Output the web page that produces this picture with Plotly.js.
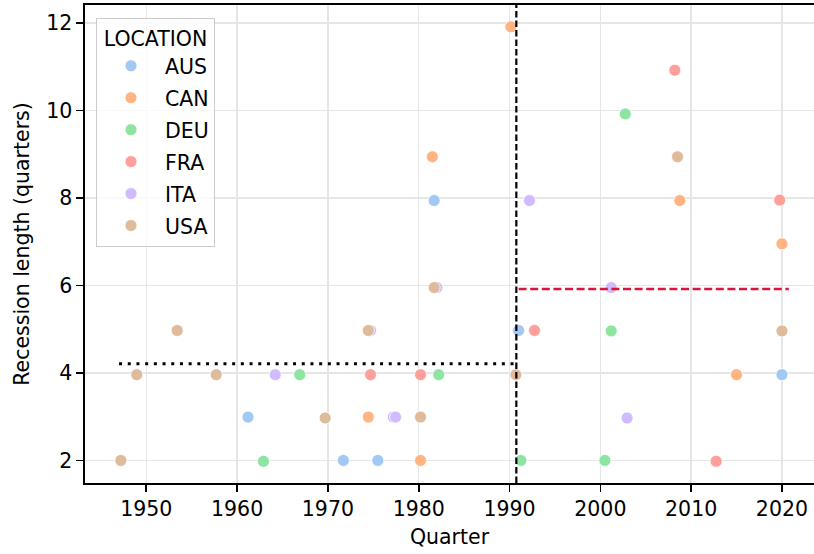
<!DOCTYPE html>
<html>
<head>
<meta charset="utf-8">
<script src="https://cdn.plot.ly/plotly-3.0.1.min.js"></script>
<style>
  html, body { margin: 0; padding: 0; background: #ffffff; }
  #chart { width: 814px; height: 554px; }
</style>
</head>
<body>
<div id="chart"></div>
<script>
// Recession episodes: start quarter (decimal year) and length in quarters, per country
const locations = ["AUS", "CAN", "DEU", "FRA", "ITA", "USA"];
const colors = ["#a1c9f4", "#ffb482", "#8de5a1", "#ff9f9b", "#d0bbff", "#debb9b"];

const ausQuarter = [1961.2, 1971.7, 1975.5, 1981.7, 1991.0, 2020.0];
const ausLength  = [2.99, 2.0, 2.0, 7.94, 4.97, 3.96];

const canQuarter = [1974.45, 1980.2, 1981.5, 1990.15, 2008.75, 2015.0, 2020.0];
const canLength  = [2.99, 2.0, 8.94, 11.91, 7.94, 3.96, 6.95];

const deuQuarter = [1962.9, 1966.9, 1982.2, 1991.25, 2000.5, 2001.2, 2002.75];
const deuLength  = [1.98, 3.96, 3.96, 2.0, 2.0, 4.96, 9.92];

const fraQuarter = [1974.7, 1980.2, 1992.75, 2008.2, 2012.75, 2019.75];
const fraLength  = [3.96, 3.96, 4.97, 10.92, 1.98, 7.95];

const itaQuarter = [1964.2, 1974.7, 1977.2, 1977.45, 1982.0, 1992.2, 2001.2, 2002.95];
const itaLength  = [3.96, 4.97, 2.99, 2.99, 5.95, 7.94, 5.95, 2.97];

const usaQuarter = [1947.2, 1948.95, 1953.4, 1957.7, 1969.7, 1974.45, 1980.2, 1981.7, 1990.7, 2008.5, 2020.0];
const usaLength  = [2.0, 3.96, 4.97, 3.96, 2.97, 4.97, 2.99, 5.95, 3.96, 8.94, 4.96];

// Split point and mean recession length before / after it
const cutoffQuarter = 1990.75;
const earlyMeanX = [1947.0, 1990.5];
const earlyMeanY = [4.21, 4.21];
const lateMeanX  = [1991.0, 2020.75];
const lateMeanY  = [5.92, 5.92];

const xTicks = [1950, 1960, 1970, 1980, 1990, 2000, 2010, 2020];
const yTicks = [2, 4, 6, 8, 10, 12];

const seriesX = [ausQuarter, canQuarter, deuQuarter, fraQuarter, itaQuarter, usaQuarter];
const seriesY = [ausLength, canLength, deuLength, fraLength, itaLength, usaLength];

const FONT = "DejaVu Sans, Liberation Sans, sans-serif";

const traces = locations.map((loc, i) => ({
  type: "scatter",
  mode: "markers",
  name: loc,
  legendgroup: loc,
  x: seriesX[i],
  y: seriesY[i],
  marker: { color: colors[i], size: 12, line: { color: "#ffffff", width: 0.8 } },
  hoverinfo: "x+y+name"
}));

traces.push({
  type: "scatter", mode: "lines", x: earlyMeanX, y: earlyMeanY, showlegend: false,
  line: { color: "#000000", width: 3, dash: "3px,5.7px" }, hoverinfo: "skip"
});
traces.push({
  type: "scatter", mode: "lines", x: lateMeanX, y: lateMeanY, showlegend: false,
  line: { color: "#dc143c", width: 2.6, dash: "8px,3.6px" }, hoverinfo: "skip"
});

const axisCommon = {
  showline: true, linecolor: "#000000", linewidth: 1.6,
  ticks: "outside", ticklen: 7, tickwidth: 1.6, tickcolor: "#000000",
  showgrid: true, gridcolor: "#e6e6e6", gridwidth: 1.5,
  zeroline: false,
  tickfont: { family: FONT, size: 20.5, color: "#000000" }
};

const layout = {
  width: 814, height: 554,
  margin: { l: 85, r: 0, t: 5, b: 71 },
  paper_bgcolor: "#ffffff", plot_bgcolor: "#ffffff",
  font: { family: FONT, size: 20.5, color: "#000000" },
  xaxis: Object.assign({}, axisCommon, {
    range: [1943.25, 2023.53], tickvals: xTicks, mirror: true,
    title: { text: "Quarter", font: { family: FONT, size: 20.5 }, standoff: 9 }
  }),
  yaxis: Object.assign({}, axisCommon, {
    range: [1.484, 12.41], tickvals: yTicks,
    title: { text: "Recession length (quarters)", font: { family: FONT, size: 20.5 }, standoff: 11 }
  }),
  shapes: [{
    type: "line", xref: "x", yref: "paper", x0: cutoffQuarter, x1: cutoffQuarter, y0: 0, y1: 1,
    line: { color: "#000000", width: 2.2, dash: "6.5px,3px" }, layer: "above"
  }],
  legend: {
    x: 0.0151, y: 0.9722, xanchor: "left", yanchor: "top",
    bgcolor: "rgba(255,255,255,0.8)", bordercolor: "#cccccc", borderwidth: 1,
    font: { family: FONT, size: 20.5, color: "#000000" },
    title: { text: "LOCATION", side: "top center", font: { family: FONT, size: 20.5 } },
    itemwidth: 58, tracegroupgap: 2.3
  },
  showlegend: true
};

Plotly.newPlot("chart", traces, layout, { displayModeBar: false, staticPlot: true });
</script>
</body>
</html>
